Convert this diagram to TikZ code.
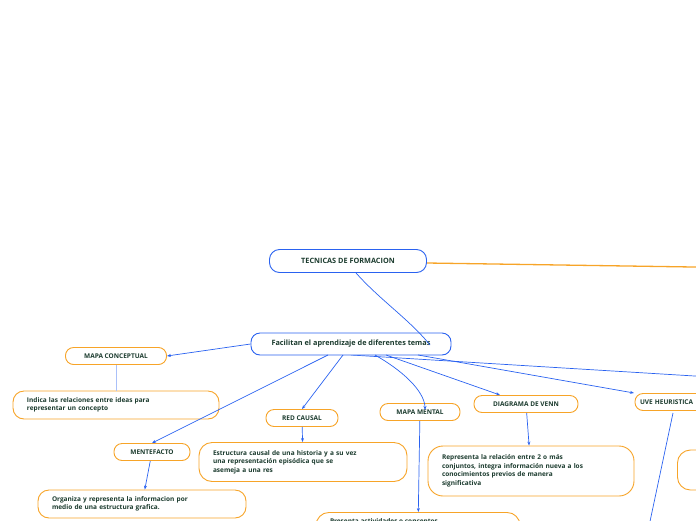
\documentclass[tikz,border=0pt]{standalone}
\usepackage{fontspec}
\setmainfont{Open Sans}
\usetikzlibrary{arrows.meta}
\definecolor{txtc}{HTML}{1B3B2E}
\definecolor{orng}{HTML}{F7A428}
\definecolor{blu}{HTML}{2A62F0}
\tikzset{
  topic/.style={draw=orng,rounded corners=8pt,line width=0.9pt,fill=white,font=\fontsize{6.5}{8.5}\selectfont\bfseries,text=txtc,align=left,inner sep=3pt},
  descr/.style={topic,inner xsep=14pt},
  root/.style={draw=blu,rounded corners=10pt,line width=0.9pt,fill=white,font=\fontsize{7.3}{9}\selectfont\bfseries,text=txtc,inner sep=5pt},
  link/.style={-{Stealth[length=4pt]},blu,line width=0.7pt}
}
\begin{document}
\begin{tikzpicture}[x=1pt,y=-1pt]
\useasboundingbox (0,0) rectangle (696,520);
\begin{scope}
\clip (0,0) rectangle (696,520);

\draw[orng,line width=1.3pt] (427,263) -- (760,268);
\draw[link] (351,355) -- (760,380);
\draw[blu,line width=0.7pt] (673,413) -- (645,545);

\node[root,minimum width=157pt,minimum height=23pt](v1) at (348,261) {TECNICAS DE FORMACION};
\node[root,minimum width=200pt,minimum height=22pt,rounded corners=9pt](v2) at (351,344) {Facilitan el aprendizaje de diferentes temas};

\node[topic,minimum width=101pt,minimum height=17pt](v3) at (116,356) {MAPA CONCEPTUAL};
\node[descr,text width=178pt,minimum height=28pt,rounded corners=11pt](v4) at (116,405) {Indica las relaciones entre ideas para\\representar un concepto};
\node[topic,minimum width=72pt,minimum height=17pt](v5) at (302,418) {RED CAUSAL};
\node[topic,minimum width=80pt,minimum height=17pt](v6) at (420,412) {MAPA MENTAL};
\node[topic,minimum width=104pt,minimum height=17pt](v7) at (526,404) {DIAGRAMA DE VENN};
\node[topic,minimum width=110pt,minimum height=17pt,align=left,text width=100pt](v8) at (690,402) {UVE HEURISTICA};
\node[topic,minimum width=76pt,minimum height=17pt](v9) at (152,452) {MENTEFACTO};
\node[descr,text width=180pt,minimum height=39pt,rounded corners=13pt](v10) at (303,462) {Estructura causal de una historia y a su vez\\una representación episódica que se\\asemeja a una res};
\node[descr,text width=178pt,minimum height=50pt,rounded corners=15pt](v11) at (531,471) {Representa la relación entre 2 o más\\conjuntos, integra información nueva a los\\conocimientos previos de manera\\significativa};
\node[descr,text width=180pt,minimum height=28pt,rounded corners=11pt](v12) at (142,504) {Organiza y representa la informacion por\\medio de una estructura grafica.};
\node[descr,text width=176pt,minimum height=34pt,rounded corners=13pt,anchor=north](v13) at (418,512) {};
\node[topic,draw=none,fill=none,anchor=north west](v13t) at (v13.north west) [xshift=11pt,yshift=-3pt] {Presenta actividades o conceptos};
\node[topic,minimum width=60pt,minimum height=40pt,rounded corners=13pt,anchor=west](v14) at (677,470) {};

\draw[blu,line width=0.7pt] (v1.south) ++(8,0) .. controls (380,300) and (410,320) .. (430,345);
\draw[link] (v2.west) -- (v3.east);
\draw[blu!40,line width=0.7pt] (v3) -- (v4);
\draw[link] (328,355) -- (v9.north);
\draw[link] (343,355) -- (v5.north);
\draw[link] (375,355) .. controls (410,375) and (425,395) .. (425,410);
\draw[link] (386,355) -- (500,395);
\draw[link] (418,355) -- (634,393);
\draw[link] (v5) -- (v10);
\draw[link] (v7) -- (v11);
\draw[link] (v9) -- (v12);
\draw[link] (v6) -- (v13);
\end{scope}
\end{tikzpicture}
\end{document}
